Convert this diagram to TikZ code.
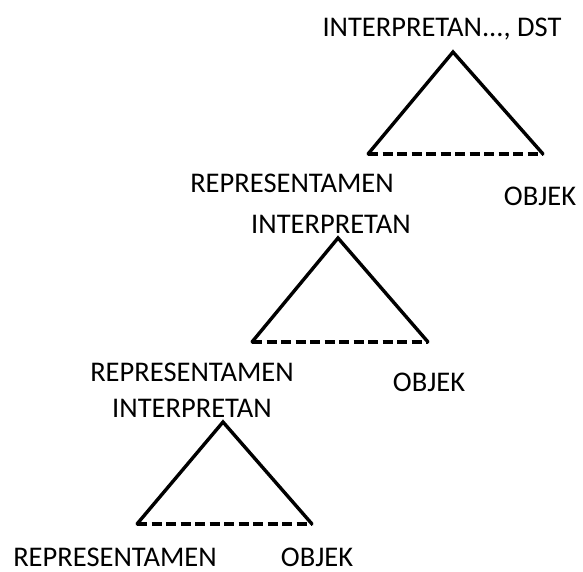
\documentclass[tikz,border=0pt]{standalone}
\usepackage{fontspec}
\setmainfont{Carlito}
\begin{document}
\begin{tikzpicture}[x=1pt,y=-1pt,
  lbl/.style={inner sep=0pt,anchor=base,text depth=0pt,font=\fontsize{28.5}{30}\selectfont},
  side/.style={line width=3.4pt,line cap=round,line join=miter},
  base/.style={line width=3.4pt,dash pattern=on 10pt off 4.5pt}]
\useasboundingbox (0,0) rectangle (583,572);
% triangle 1
\coordinate (a1) at (453,52);
\coordinate (l1) at (368,154);
\coordinate (r1) at (543,154);
% triangle 2
\coordinate (a2) at (338,238);
\coordinate (l2) at (252,342);
\coordinate (r2) at (428,342);
% triangle 3
\coordinate (a3) at (223,422);
\coordinate (l3) at (137,524);
\coordinate (r3) at (312,524);
\foreach \i in {1,2,3}{
  \draw[side] (l\i) -- (a\i) -- (r\i);
  \draw[base] (l\i) -- (r\i);
}
% labels
\node[lbl] (i1) at (442,37) {INTERPRETAN..., DST};
\node[lbl] (p1) at (292,193) {REPRESENTAMEN};
\node[lbl] (o1) at (540,205) {OBJEK};
\node[lbl] (i2) at (331,233) {INTERPRETAN};
\node[lbl] (p2) at (192,381) {REPRESENTAMEN};
\node[lbl] (o2) at (429,391) {OBJEK};
\node[lbl] (i3) at (192,417) {INTERPRETAN};
\node[lbl] (p3) at (115,566) {REPRESENTAMEN};
\node[lbl] (o3) at (317,566) {OBJEK};
\end{tikzpicture}
\end{document}
